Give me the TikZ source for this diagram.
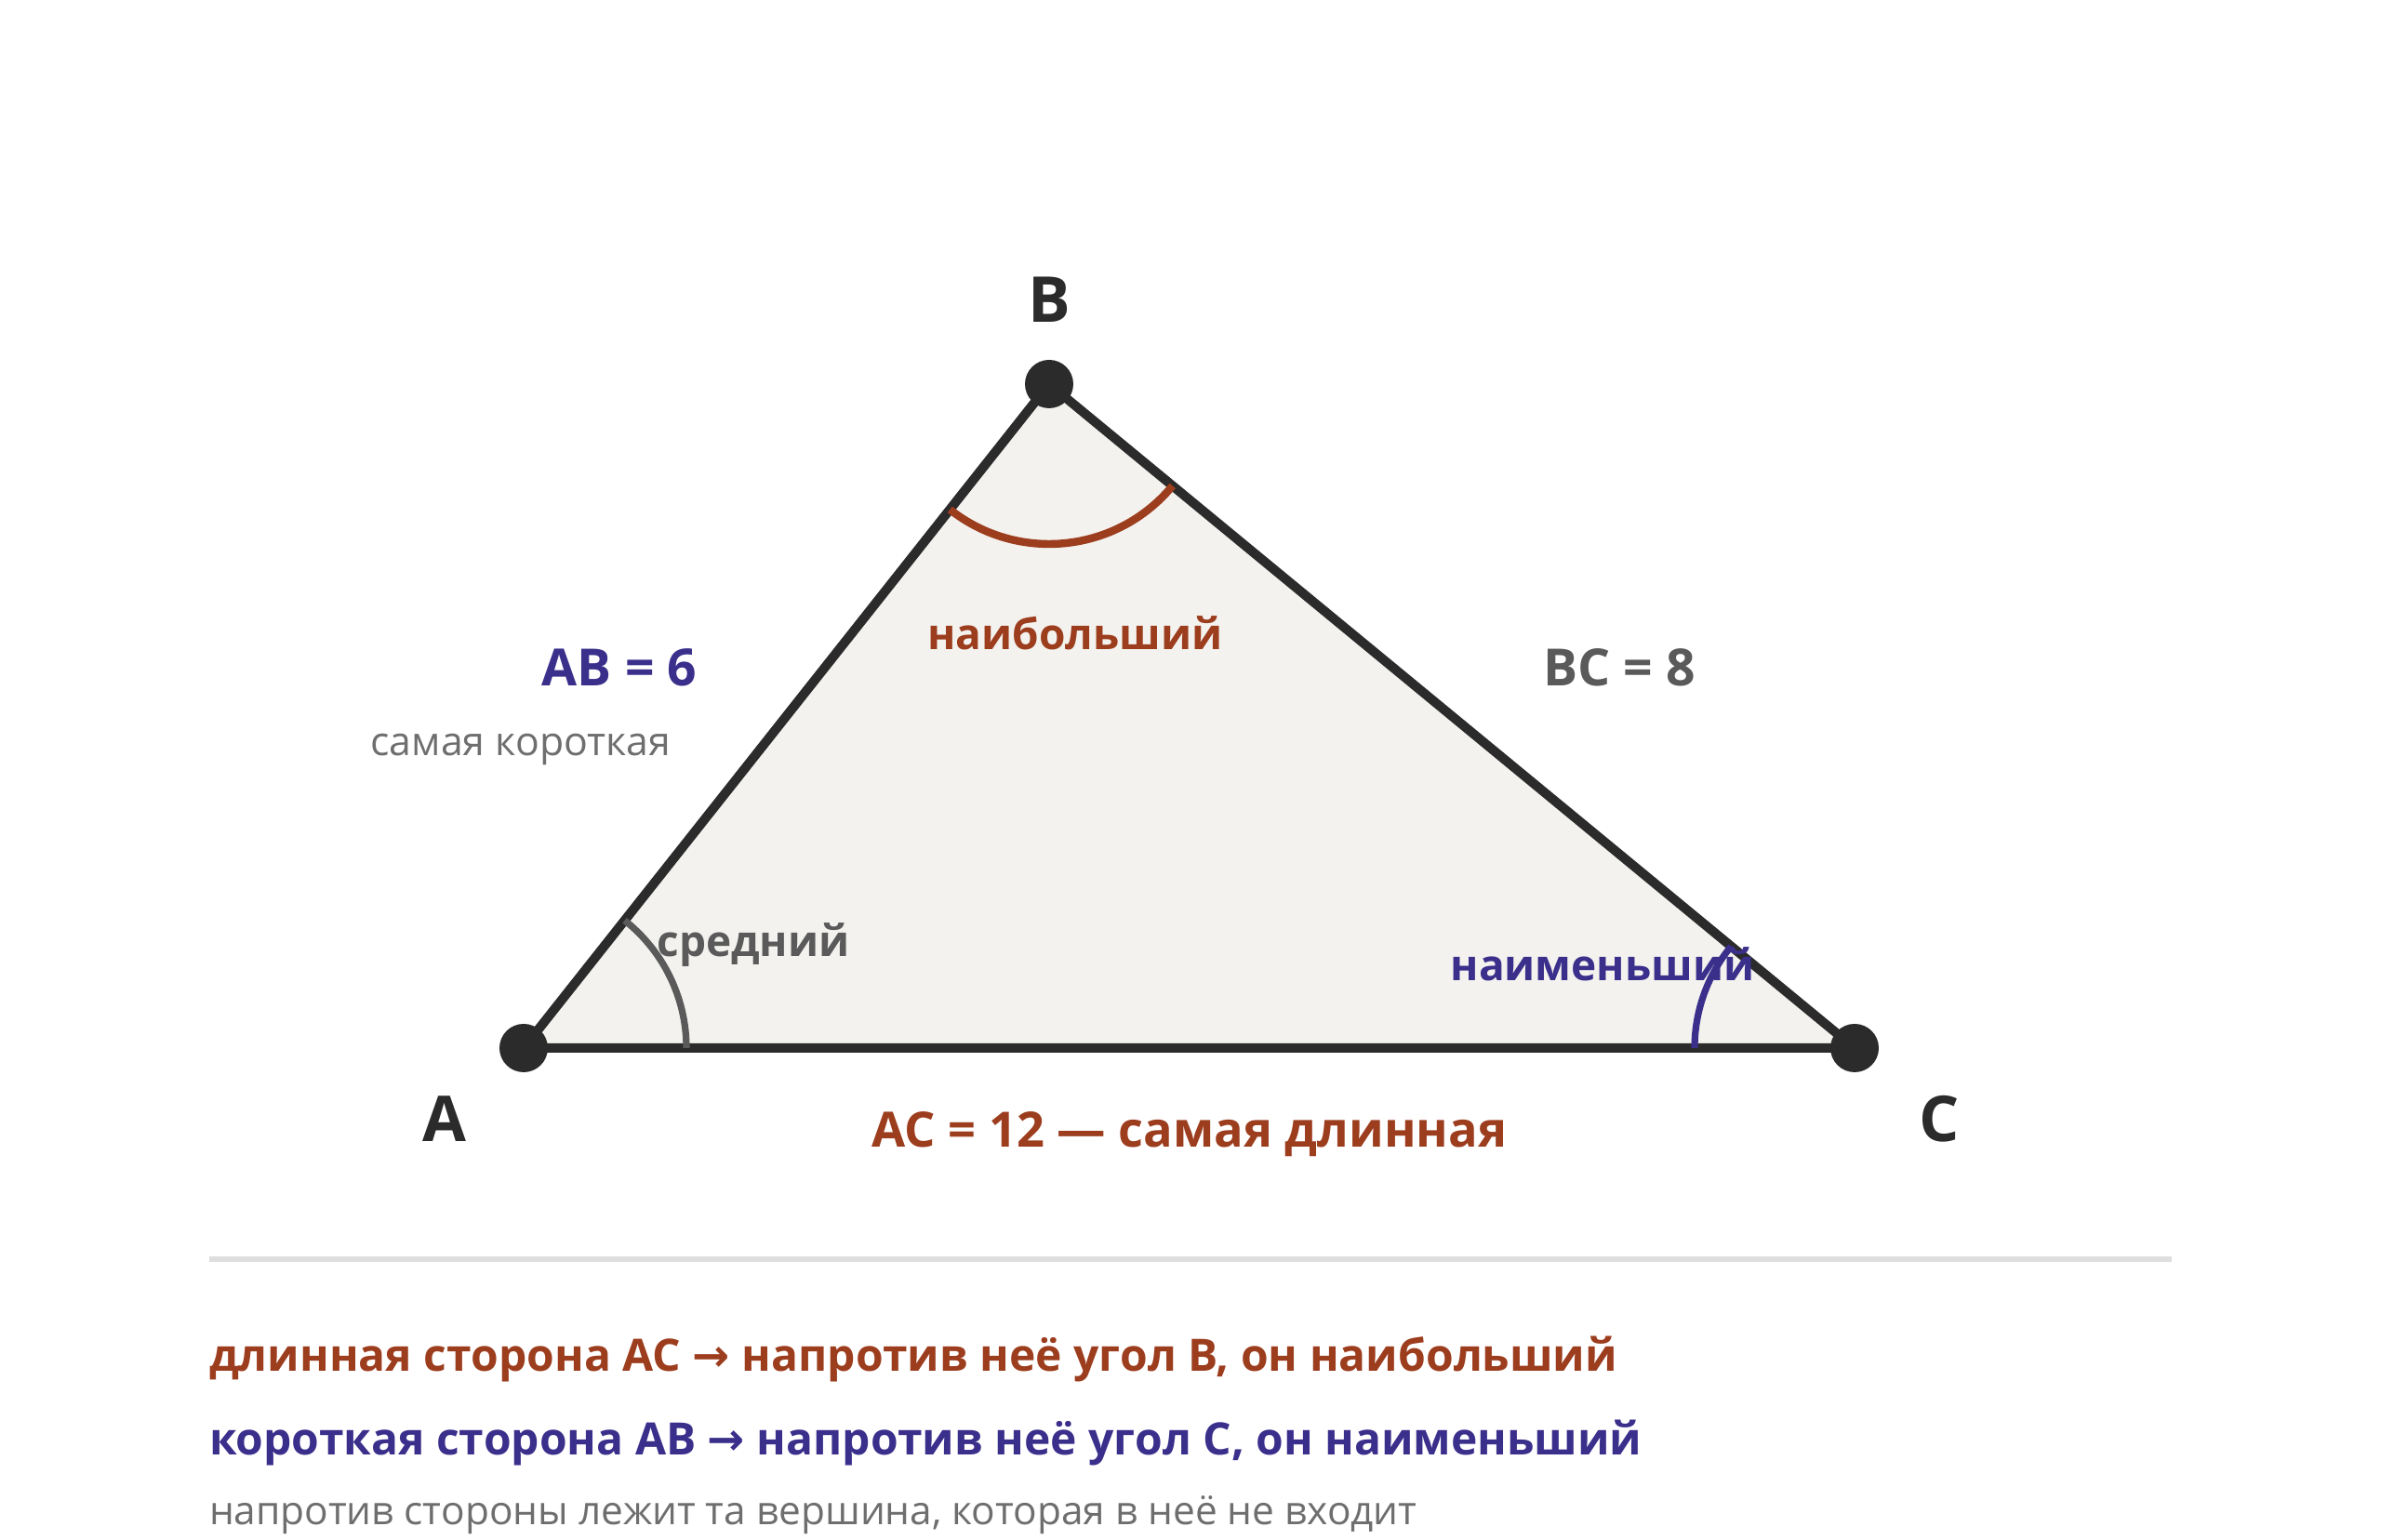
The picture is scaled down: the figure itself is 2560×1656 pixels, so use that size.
\documentclass[tikz,border=0pt]{standalone}
\usepackage{fontspec}
\setmainfont{Open Sans}
\newfontfamily\arrowfont{DejaVu Sans}
\usetikzlibrary{positioning}
\definecolor{ink}{RGB}{43,43,43}
\definecolor{paper}{RGB}{243,242,238}
\definecolor{rust}{RGB}{156,61,30}
\definecolor{indigo}{RGB}{59,47,140}
\definecolor{slate}{RGB}{90,90,90}
\definecolor{mist}{RGB}{110,110,110}
\definecolor{rule}{RGB}{222,222,222}

\begin{document}
\begin{tikzpicture}
[x=0.25pt, y=0.25pt,
    every node/.style={inner sep=0pt, outer sep=0pt},
    dot/.style={circle, fill=ink, minimum size=13pt},
    vertex label/.style={font=\fontsize{17}{20}\selectfont\bfseries, text=ink},
    side label/.style={font=\fontsize{13.8}{16}\selectfont\bfseries},
    angle label/.style={font=\fontsize{11.5}{14}\selectfont\bfseries},
    note/.style={font=\fontsize{10.7}{12}\selectfont, text=mist},
    summary/.style={anchor=west, font=\fontsize{12}{15}\selectfont\bfseries},
    angle mark/.style={line width=2.1pt}
    ]
    \useasboundingbox (0,0) rectangle (2560,1656);

    \coordinate (pA) at (563,529);
    \coordinate (pB) at (1128,1243);
    \coordinate (pC) at (1994,529);

    \filldraw[fill=paper, draw=ink, line width=2.5pt, line join=round]
        (pA) -- (pB) -- (pC) -- cycle;

    \draw[angle mark, draw=rust] (pB) ++(231.65:172) arc[start angle=231.65, end angle=320.5, radius=172];
    \draw[angle mark, draw=slate, line width=1.8pt] (pA) ++(0:175) arc[start angle=0, end angle=51.65, radius=175];
    \draw[angle mark, draw=indigo, line width=1.8pt] (pC) ++(140.5:172) arc[start angle=140.5, end angle=180, radius=172];

    \node[dot] (A) at (pA) {};
    \node[dot] (B) at (pB) {};
    \node[dot] (C) at (pC) {};

    \node[vertex label] (labA) at (478,453) {A};
    \node[vertex label] (labB) at (1128,1334) {B};
    \node[vertex label] (labC) at (2085,453) {C};

    \node[side label, text=indigo] (ab) at (666,938) {AB = 6};
    \node[note] (abnote) at (560,850) {самая короткая};
    \node[side label, text=slate] (bc) at (1741,938) {BC = 8};
    \node[side label, text=rust, font=\fontsize{13.1}{16}\selectfont\bfseries] (ac) at (1279,436) {AC = 12 — самая длинная};

    \node[angle label, text=rust] (angB) at (1156,975) {наибольший};
    \node[angle label, text=slate] (angA) at (810,640) {средний};
    \node[angle label, text=indigo] (angC) at (1723,619) {наименьший};

    \draw[rule, line width=1.3pt] (225,302) coordinate (r1) -- (2335,302) coordinate (r2);

    \node[summary, text=rust] (sum1) at (225,194) {длинная сторона AC {\arrowfont →} напротив неё угол B, он наибольший};
    \node[summary, text=indigo] (sum2) at (225,104) {короткая сторона AB {\arrowfont →} напротив неё угол C, он наименьший};
    \node[note, anchor=west, font=\fontsize{10.6}{12}\selectfont] (sum3) at (225,27) {напротив стороны лежит та вершина, которая в неё не входит};
\end{tikzpicture}
\end{document}
